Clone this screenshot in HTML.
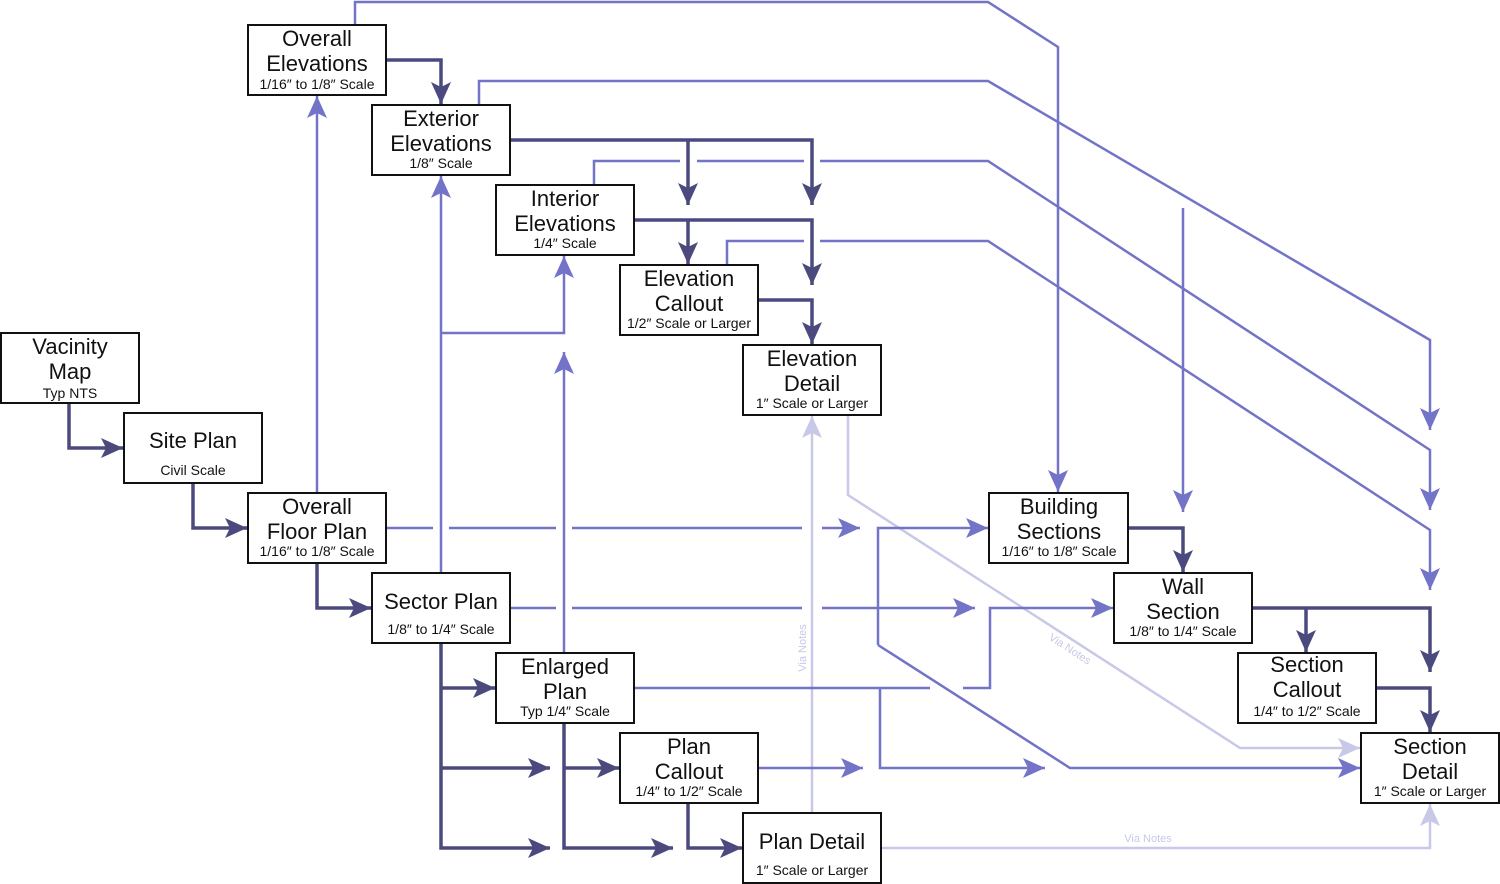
<!DOCTYPE html>
<html><head><meta charset="utf-8"><style>
html,body{margin:0;padding:0;background:#fff;}
svg{display:block;font-family:"Liberation Sans",sans-serif;}
.t{font-size:22px;fill:#111;text-anchor:middle;}
.s{font-size:14px;fill:#111;text-anchor:middle;}
rect{fill:#fff;stroke:#111;stroke-width:2;}
.d{fill:none;stroke:#4b4a7e;stroke-width:3.5;}
.m{fill:none;stroke:#7373c8;stroke-width:2.5;}
.p{fill:none;stroke:#c8c8e8;stroke-width:2.5;}
.g{stroke:#fff;stroke-width:6;}
</style></head><body>
<svg width="1500" height="884" viewBox="0 0 1500 884" xmlns="http://www.w3.org/2000/svg">
<defs>
<marker id="ad" markerUnits="userSpaceOnUse" markerWidth="24" markerHeight="22" refX="22" refY="10" orient="auto"><path d="M0,0 L22,10 L0,20 L5,10z" fill="#4b4a7e"/></marker>
<marker id="am" markerUnits="userSpaceOnUse" markerWidth="24" markerHeight="22" refX="22" refY="10" orient="auto"><path d="M0,0 L22,10 L0,20 L5,10z" fill="#7373c8"/></marker>
<marker id="ap" markerUnits="userSpaceOnUse" markerWidth="24" markerHeight="22" refX="22" refY="10" orient="auto"><path d="M0,0 L22,10 L0,20 L5,10z" fill="#c8c8e8"/></marker>
</defs>

<!-- horizontal lines that are broken at crossings -->
<path class="m" d="M386,528 H860" marker-end="url(#am)"/>
<path class="m" d="M510,608 H975" marker-end="url(#am)"/>
<path class="m" d="M594,185 V161 H988 L1430,450 V510" marker-end="url(#am)"/>
<path class="m" d="M727,265 V241 H988 L1430,530 V590" marker-end="url(#am)"/>
<line class="g" x1="433" y1="528" x2="449" y2="528"/>
<line class="g" x1="556" y1="528" x2="572" y2="528"/>
<line class="g" x1="556" y1="608" x2="572" y2="608"/>
<line class="g" x1="802" y1="528" x2="822" y2="528"/>
<line class="g" x1="802" y1="608" x2="822" y2="608"/>
<line class="g" x1="802" y1="688" x2="822" y2="688"/>
<line class="g" x1="802" y1="768" x2="822" y2="768"/>
<line class="g" x1="680" y1="161" x2="697" y2="161"/>
<line class="g" x1="804" y1="161" x2="820" y2="161"/>
<line class="g" x1="804" y1="241" x2="820" y2="241"/>

<!-- pale lines -->
<path class="p" d="M812,813 V416" marker-end="url(#ap)"/>
<path class="p" d="M848,415 V495 L1240,748 H1360" marker-end="url(#ap)"/>
<path class="p" d="M881,848 H1430 V804" marker-end="url(#ap)"/>
<text x="806" y="648" font-size="11" fill="#c8c8e8" text-anchor="middle" transform="rotate(-90 806 648)">Via Notes</text>
<text x="1068" y="652" font-size="11" fill="#c8c8e8" text-anchor="middle" transform="rotate(33 1068 652)">Via Notes</text>
<text x="1148" y="842" font-size="11" fill="#c8c8e8" text-anchor="middle">Via Notes</text>

<!-- medium lines -->
<path class="m" d="M317,493 V96" marker-end="url(#am)"/>
<path class="m" d="M441,573 V176" marker-end="url(#am)"/>
<path class="m" d="M441,333 H564 V256" marker-end="url(#am)"/>
<path class="m" d="M564,653 V352" marker-end="url(#am)"/>
<path class="m" d="M355,25 V2 H988 L1058,47 V492" marker-end="url(#am)"/>
<path class="m" d="M479,105 V81 H988 L1430,340 V430" marker-end="url(#am)"/>
<path class="m" d="M1183,208 V512" marker-end="url(#am)"/>
<path class="m" d="M878,645 V528 H988" marker-end="url(#am)"/>
<path class="m" d="M878,645 L1070,768 H1360" marker-end="url(#am)"/>
<path class="m" d="M634,688 H930 M963,688 H990 V608 H1113" marker-end="url(#am)"/>
<path class="m" d="M880,688 V768 H1045" marker-end="url(#am)"/>
<path class="m" d="M758,768 H863" marker-end="url(#am)"/>

<!-- dark lines -->
<path class="d" d="M69,403 V448 H123" marker-end="url(#ad)"/>
<path class="d" d="M193,483 V528 H247" marker-end="url(#ad)"/>
<path class="d" d="M317,563 V608 H371" marker-end="url(#ad)"/>
<path class="d" d="M386,60 H441 V104" marker-end="url(#ad)"/>
<path class="d" d="M510,140 H812 V205" marker-end="url(#ad)"/>
<path class="d" d="M688,140 V205" marker-end="url(#ad)"/>
<path class="d" d="M634,220 H812 V285" marker-end="url(#ad)"/>
<path class="d" d="M688,220 V264" marker-end="url(#ad)"/>
<path class="d" d="M758,300 H812 V344" marker-end="url(#ad)"/>
<path class="d" d="M441,643 V848 H550" marker-end="url(#ad)"/>
<path class="d" d="M441,688 H495" marker-end="url(#ad)"/>
<path class="d" d="M441,768 H550" marker-end="url(#ad)"/>
<path class="d" d="M564,723 V848 H673" marker-end="url(#ad)"/>
<path class="d" d="M564,768 H619" marker-end="url(#ad)"/>
<path class="d" d="M688,803 V848 H742" marker-end="url(#ad)"/>
<path class="d" d="M1128,528 H1183 V572" marker-end="url(#ad)"/>
<path class="d" d="M1252,608 H1430 V672" marker-end="url(#ad)"/>
<path class="d" d="M1306,608 V652" marker-end="url(#ad)"/>
<path class="d" d="M1376,688 H1430 V732" marker-end="url(#ad)"/>

<!-- boxes -->
<rect x="248" y="25" width="138" height="70"/><text class="t" x="317" y="46">Overall</text><text class="t" x="317" y="71">Elevations</text><text class="s" x="317" y="89">1/16″ to 1/8″ Scale</text>
<rect x="372" y="105" width="138" height="70"/><text class="t" x="441" y="126">Exterior</text><text class="t" x="441" y="151">Elevations</text><text class="s" x="441" y="168">1/8″ Scale</text>
<rect x="496" y="185" width="138" height="70"/><text class="t" x="565" y="206">Interior</text><text class="t" x="565" y="231">Elevations</text><text class="s" x="565" y="248">1/4″ Scale</text>
<rect x="620" y="265" width="138" height="70"/><text class="t" x="689" y="286">Elevation</text><text class="t" x="689" y="311">Callout</text><text class="s" x="689" y="328">1/2″ Scale or Larger</text>
<rect x="743" y="345" width="138" height="70"/><text class="t" x="812" y="366">Elevation</text><text class="t" x="812" y="391">Detail</text><text class="s" x="812" y="408">1″ Scale or Larger</text>
<rect x="1" y="333" width="138" height="70"/><text class="t" x="70" y="354">Vacinity</text><text class="t" x="70" y="379">Map</text><text class="s" x="70" y="398">Typ NTS</text>
<rect x="124" y="413" width="138" height="70"/><text class="t" x="193" y="448">Site Plan</text><text class="s" x="193" y="475">Civil Scale</text>
<rect x="248" y="493" width="138" height="70"/><text class="t" x="317" y="514">Overall</text><text class="t" x="317" y="539">Floor Plan</text><text class="s" x="317" y="556">1/16″ to 1/8″ Scale</text>
<rect x="372" y="573" width="138" height="70"/><text class="t" x="441" y="609">Sector Plan</text><text class="s" x="441" y="634">1/8″ to 1/4″ Scale</text>
<rect x="496" y="653" width="138" height="70"/><text class="t" x="565" y="674">Enlarged</text><text class="t" x="565" y="699">Plan</text><text class="s" x="565" y="716">Typ 1/4″ Scale</text>
<rect x="620" y="733" width="138" height="70"/><text class="t" x="689" y="754">Plan</text><text class="t" x="689" y="779">Callout</text><text class="s" x="689" y="796">1/4″ to 1/2″ Scale</text>
<rect x="743" y="813" width="138" height="70"/><text class="t" x="812" y="849">Plan Detail</text><text class="s" x="812" y="875">1″ Scale or Larger</text>
<rect x="989" y="493" width="139" height="70"/><text class="t" x="1059" y="514">Building</text><text class="t" x="1059" y="539">Sections</text><text class="s" x="1059" y="556">1/16″ to 1/8″ Scale</text>
<rect x="1114" y="573" width="138" height="70"/><text class="t" x="1183" y="594">Wall</text><text class="t" x="1183" y="619">Section</text><text class="s" x="1183" y="636">1/8″ to 1/4″ Scale</text>
<rect x="1238" y="653" width="138" height="70"/><text class="t" x="1307" y="672" font-size="20">Section</text><text class="t" x="1307" y="697" font-size="20">Callout</text><text class="s" x="1307" y="716">1/4″ to 1/2″ Scale</text>
<rect x="1361" y="733" width="138" height="70"/><text class="t" x="1430" y="754">Section</text><text class="t" x="1430" y="779">Detail</text><text class="s" x="1430" y="796">1″ Scale or Larger</text>
</svg>
</body></html>
